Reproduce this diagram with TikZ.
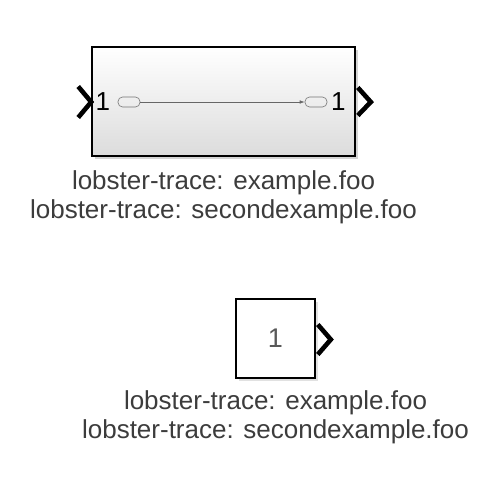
\documentclass[tikz,border=0pt]{standalone}
\usepackage{fontspec}
\setmainfont{Liberation Sans}
\usepackage{xcolor}
\definecolor{LabelGrey}{HTML}{3C3C3C}
\definecolor{ShadowGrey}{HTML}{D4D4D4}
\definecolor{BodyBottom}{HTML}{DCDCDC}
\usepackage{tikz}
\usetikzlibrary{positioning,calc,arrows.meta}

\newcommand{\portsize}{\fontsize{26}{29}\selectfont}
\newcommand{\valuesize}{\fontsize{27}{30}\selectfont}

\tikzset{
  block/.style={draw=black, line width=1.6pt, inner sep=0pt},
  shadowbox/.style={fill=ShadowGrey},
  port/.style={draw=black, line width=4.6pt, miter limit=10},
  portoval/.style={draw=black!55, line width=0.6pt, rounded corners=4.5pt,
    minimum width=22pt, minimum height=10pt, inner sep=0pt},
  portnum/.style={text=black, inner sep=0pt},
  tracelabel/.style={font=\fontsize{26}{29.5}\selectfont, text=LabelGrey,
    align=center, inner sep=0pt}
}

\begin{document}
\begin{tikzpicture}[x=1pt, y=-1pt]
  \useasboundingbox (0,0) rectangle (500,500);
  %% subsystem block
  \fill[shadowbox] (95,50) rectangle (358,159);
  \node[block, minimum width=263pt, minimum height=109pt,
    top color=white, bottom color=BodyBottom] (sub) at (223.5,101.5) {};
  \draw[port] ($(sub.west)+(-13,-15)$) -- ($(sub.west)+(0,0.5)$) -- ($(sub.west)+(-13,16)$);
  \draw[port] ($(sub.east)+(2,-14)$) -- ($(sub.east)+(15,0.5)$) -- ($(sub.east)+(2,14)$);
  %% inner ports
  \node[portnum, anchor=west] (inNum) at (95.5,102) {\portsize 1};
  \node[portoval] (inOval) at (129,102) {};
  \node[portoval] (outOval) at (316,102) {};
  \node[portnum, anchor=west] (outNum) at (331,102) {\portsize 1};
  \draw[black!60, line width=0.6pt, -{Latex[length=5pt,width=3.5pt]}] (inOval) -- (outOval);
  %% labels
  \node[tracelabel, anchor=north] (subLabel) at (sub.south |- 0,170)
    {lobster-trace: example.foo\\lobster-trace: secondexample.foo};

  %% constant block
  \fill[ShadowGrey!70] (239,302) rectangle (318,381);
  \node[block, fill=white, minimum width=79pt, minimum height=79pt] (const) at (275.5,338.5) {};
  \node[portnum, text=black!65] (constVal) at (const.center) {\valuesize 1};
  \draw[port] ($(const.east)+(2,-14)$) -- ($(const.east)+(15,1)$) -- ($(const.east)+(2,16)$);
  %% labels
  \node[tracelabel, anchor=north] (constLabel) at (const.south |- 0,390)
    {lobster-trace: example.foo\\lobster-trace: secondexample.foo};
\end{tikzpicture}
\end{document}
